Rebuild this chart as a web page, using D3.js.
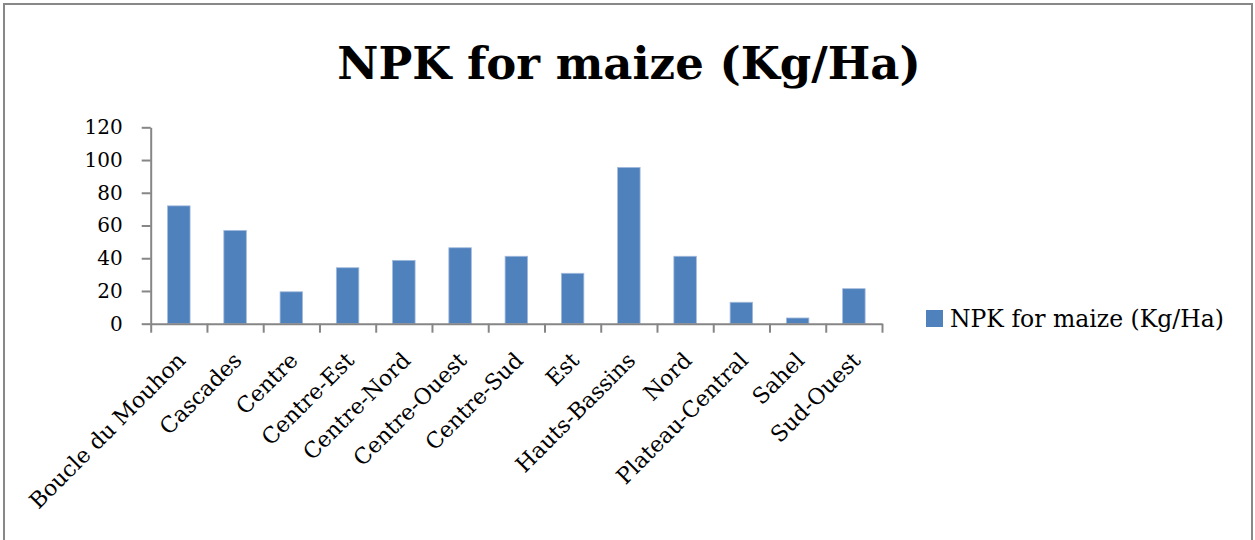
<!DOCTYPE html>
<html>
<head>
<meta charset="utf-8">
<script src="https://cdn.jsdelivr.net/npm/d3@7"></script>
<style>
    body { margin: 0; background: #fff; }
    svg { display: block; }
</style>
</head>
<body>
<svg id="chart" width="1255" height="540"></svg>
<script>
const regions = ['Boucle du Mouhon', 'Cascades', 'Centre', 'Centre-Est', 'Centre-Nord', 'Centre-Ouest',
    'Centre-Sud', 'Est', 'Hauts-Bassins', 'Nord', 'Plateau-Central', 'Sahel', 'Sud-Ouest'];
const npkValues = [72, 57, 19.5, 34.2, 38.7, 46.4, 41.2, 30.8, 95.5, 41.2, 13.1, 3.5, 21.4];
const yTicks = [0, 20, 40, 60, 80, 100, 120];
const titleText = 'NPK for maize (Kg/Ha)';
const seriesName = 'NPK for maize (Kg/Ha)';

const svg = d3.select('#chart');
const serif = '"DejaVu Serif", "Liberation Serif", serif';
const axisColor = '#868686';
const barColor = '#4f81bd';

// plot area
const plotLeft = 150.7, plotRight = 882, plotTop = 127.3, plotBottom = 323.7;

// outer frame
svg.append('rect')
    .attr('x', 4).attr('y', 4)
    .attr('width', 1248).attr('height', 560)
    .attr('fill', 'none')
    .attr('stroke', '#888')
    .attr('stroke-width', 2);

// title
svg.append('text')
    .attr('x', 629).attr('y', 79)
    .attr('text-anchor', 'middle')
    .style('font-family', serif)
    .style('font-weight', 'bold')
    .style('font-size', '45px')
    .attr('fill', '#000')
    .text(titleText);

const y = d3.scaleLinear().domain([0, 120]).range([plotBottom, plotTop]);
const x = d3.scaleBand().domain(regions).range([plotLeft, plotRight])
    .paddingInner(0.6).paddingOuter(0.3);
const slots = d3.scaleLinear().domain([0, regions.length]).range([plotLeft, plotRight]);

// bars
svg.append('g').selectAll('rect')
    .data(regions)
    .join('rect')
    .attr('x', d => x(d))
    .attr('y', (d, i) => y(npkValues[i]))
    .attr('width', x.bandwidth())
    .attr('height', (d, i) => plotBottom - y(npkValues[i]))
    .attr('fill', barColor)
    .attr('stroke', '#a3bbdc')
    .attr('stroke-width', 0.8);

// y axis
const yAxis = svg.append('g')
    .attr('transform', 'translate(' + plotLeft + ',0)')
    .call(d3.axisLeft(y).tickValues(yTicks).tickSize(9).tickSizeOuter(0).tickPadding(19));
yAxis.selectAll('text')
    .style('font-family', serif)
    .style('font-size', '20px')
    .attr('fill', '#000');

// x axis, ticks on category boundaries
svg.append('g')
    .attr('transform', 'translate(0,' + plotBottom + ')')
    .call(d3.axisBottom(slots).ticks(regions.length).tickSize(9).tickSizeOuter(0).tickFormat(''));

svg.selectAll('.domain, .tick line')
    .attr('stroke', axisColor)
    .attr('stroke-width', 2);

// rotated category labels
svg.append('g').selectAll('text')
    .data(regions)
    .join('text')
    .attr('transform', d => 'translate(' + (x(d) + x.bandwidth() / 2 + 8) + ',' + (plotBottom + 38) + ') rotate(-45)')
    .attr('text-anchor', 'end')
    .style('font-family', serif)
    .style('font-size', '22px')
    .attr('fill', '#000')
    .text(d => d);

// legend
const legend = svg.append('g').attr('transform', 'translate(926,310)');
legend.append('rect')
    .attr('width', 17).attr('height', 17)
    .attr('fill', barColor);
legend.append('text')
    .attr('x', 24).attr('y', 17)
    .style('font-family', serif)
    .style('font-size', '23.5px')
    .attr('fill', '#000')
    .text(seriesName);
</script>
</body>
</html>
